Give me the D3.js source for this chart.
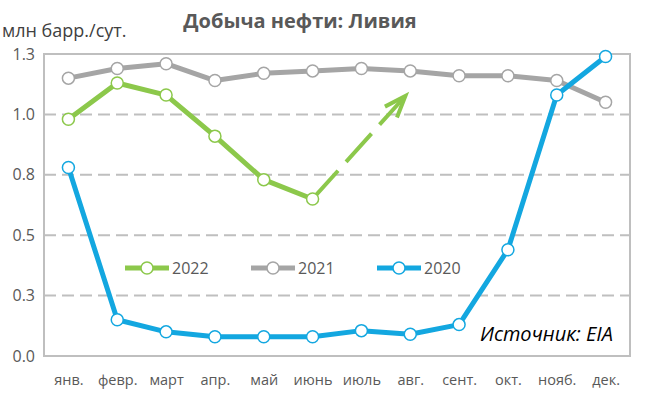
<!DOCTYPE html>
<html lang="ru">
<head>
    <meta charset="UTF-8">
    <title>Добыча нефти: Ливия</title>
    <script src="https://d3js.org/d3.v7.min.js"></script>
    <style>
        body { margin: 0; background: #fff; }
        text { font-family: "Open Sans", "Noto Sans", sans-serif; }
    </style>
</head>
<body>

<svg width="658" height="395"></svg>

<script>

    var months = ['янв.', 'февр.', 'март', 'апр.', 'май', 'июнь', 'июль', 'авг.', 'сент.', 'окт.', 'нояб.', 'дек.'];

    var y2022 = [0.98, 1.13, 1.08, 0.91, 0.73, 0.65];
    var y2021 = [1.15, 1.19, 1.21, 1.14, 1.17, 1.18, 1.19, 1.18, 1.16, 1.16, 1.14, 1.05];
    var y2020 = [0.78, 0.15, 0.10, 0.08, 0.08, 0.08, 0.105, 0.09, 0.13, 0.44, 1.08, 1.24];

    var tickValues = [0, 0.25, 0.5, 0.75, 1.0, 1.25];
    var tickLabels = ['0.0', '0.3', '0.5', '0.8', '1.0', '1.3'];

    // стрелка от июня 2022 вверх (индекс месяца, значение)
    var arrowFrom = [5, 0.65];
    var arrowTo = [6.9, 1.076];

    var svg = d3.select('svg');

    var mLeft = 44, mRight = 630, mTop = 54, mBottom = 356;

    var x = d3.scalePoint().domain(months).range([mLeft, mRight]).padding(0.5);
    var xi = d3.scaleLinear().domain([0, 11]).range([x(months[0]), x(months[11])]);
    var y = d3.scaleLinear().domain([0, 1.25]).range([mBottom, mTop]);

    // сетка
    svg.append('g')
        .selectAll('line')
        .data(tickValues.slice(1, 5))
        .enter()
        .append('line')
        .attr('x1', mLeft)
        .attr('x2', mRight)
        .attr('y1', function (d) { return y(d); })
        .attr('y2', function (d) { return y(d); })
        .attr('stroke', '#bfbfbf')
        .attr('stroke-width', 2)
        .attr('stroke-dasharray', '12,6');

    svg.append('rect')
        .attr('x', mLeft)
        .attr('y', mTop)
        .attr('width', mRight - mLeft)
        .attr('height', mBottom - mTop)
        .attr('fill', 'none')
        .attr('stroke', '#bfbfbf')
        .attr('stroke-width', 2);

    // ось Y
    var axisY = d3.axisLeft(y)
        .tickValues(tickValues)
        .tickSize(0)
        .tickPadding(9)
        .tickFormat(function (d, i) { return tickLabels[i]; });

    var gy = svg.append('g')
        .attr('transform', 'translate(' + mLeft + ',0)')
        .call(axisY);
    gy.select('.domain').remove();
    gy.selectAll('text')
        .attr('fill', '#595959')
        .style('font-size', '16px')
        .style('font-family', '"Open Sans", sans-serif');

    // ось X
    var axisX = d3.axisBottom(x).tickSize(0).tickPadding(19);
    var gx = svg.append('g')
        .attr('transform', 'translate(0,' + mBottom + ')')
        .call(axisX);
    gx.select('.domain').remove();
    gx.selectAll('text')
        .attr('fill', '#595959')
        .style('font-size', '14.5px')
        .style('font-family', '"Open Sans", sans-serif');

    // пунктирная стрелка (под маркерами)
    var ax1 = xi(arrowFrom[0]), ay1 = y(arrowFrom[1]);
    var ax2 = xi(arrowTo[0]), ay2 = y(arrowTo[1]);
    var ang = Math.atan2(ay2 - ay1, ax2 - ax1);
    var headLen = 23;
    var arrowG = svg.append('g');
    arrowG.append('line')
        .attr('x1', ax1).attr('y1', ay1)
        .attr('x2', ax2 - Math.cos(ang) * 3).attr('y2', ay2 - Math.sin(ang) * 3)
        .attr('stroke', '#8cc84b')
        .attr('stroke-width', 4)
        .attr('stroke-dasharray', '38,12');
    arrowG.append('path')
        .attr('d', 'M' + (ax2 - headLen * Math.cos(ang - 0.36)) + ',' + (ay2 - headLen * Math.sin(ang - 0.36)) +
            'L' + ax2 + ',' + ay2 +
            'L' + (ax2 - headLen * Math.cos(ang + 0.36)) + ',' + (ay2 - headLen * Math.sin(ang + 0.36)))
        .attr('fill', 'none')
        .attr('stroke', '#8cc84b')
        .attr('stroke-width', 4)
        .attr('stroke-linejoin', 'miter');

    var line = d3.line()
        .x(function (d, i) { return xi(i); })
        .y(function (d) { return y(d); });

    var series = [
        { name: '2021', values: y2021, color: '#a5a5a5' },
        { name: '2020', values: y2020, color: '#13a7e0' },
        { name: '2022', values: y2022, color: '#8cc84b' }
    ];

    series.forEach(function (s) {
        var g = svg.append('g');
        g.append('path')
            .datum(s.values)
            .attr('d', line)
            .attr('fill', 'none')
            .attr('stroke', s.color)
            .attr('stroke-width', 5)
            .attr('stroke-linejoin', 'round');
        g.selectAll('circle')
            .data(s.values)
            .enter()
            .append('circle')
            .attr('cx', function (d, i) { return xi(i); })
            .attr('cy', function (d) { return y(d); })
            .attr('r', 6)
            .attr('fill', '#fff')
            .attr('stroke', s.color)
            .attr('stroke-width', 1.5);
    });

    // легенда
    var legend = svg.append('g').attr('transform', 'translate(125,268)');
    var legendItems = [series[2], series[0], series[1]];
    legendItems.forEach(function (s, i) {
        var lg = legend.append('g').attr('transform', 'translate(' + (i * 126) + ',0)');
        lg.append('line')
            .attr('x1', 0).attr('x2', 44)
            .attr('stroke', s.color)
            .attr('stroke-width', 5);
        lg.append('circle')
            .attr('cx', 22).attr('r', 6)
            .attr('fill', '#fff')
            .attr('stroke', s.color)
            .attr('stroke-width', 1.5);
        lg.append('text')
            .attr('x', 47).attr('y', 6)
            .attr('fill', '#595959')
            .style('font-size', '16px')
            .text(s.name);
    });

    // заголовки
    svg.append('text')
        .attr('x', 300).attr('y', 28)
        .attr('text-anchor', 'middle')
        .attr('fill', '#595959')
        .style('font-size', '20px')
        .style('font-weight', 'bold')
        .text('Добыча нефти: Ливия');

    svg.append('text')
        .attr('x', 2).attr('y', 37)
        .attr('fill', '#404040')
        .style('font-size', '18px')
        .text('млн барр./сут.');

    svg.append('text')
        .attr('x', 613).attr('y', 341)
        .attr('text-anchor', 'end')
        .attr('fill', '#000')
        .style('font-size', '20px')
        .style('font-style', 'italic')
        .text('Источник: EIA');

</script>
</body>
</html>
